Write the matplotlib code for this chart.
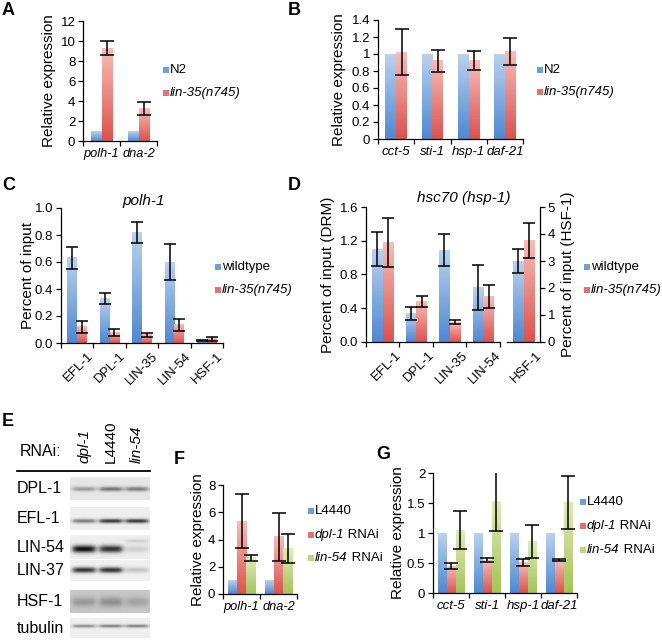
import numpy as np
import matplotlib
matplotlib.use("Agg")
import matplotlib.pyplot as plt
from matplotlib.colors import LinearSegmentedColormap
from matplotlib.patches import Rectangle
from matplotlib.lines import Line2D
from matplotlib.transforms import ScaledTranslation

# ---------------- data ----------------
a_cats = ["polh-1", "dna-2"]
a_n2 = [1.0, 1.0]
a_lin35 = [9.3, 3.3]
a_lin35_err = [0.72, 0.65]

b_cats = ["cct-5", "sti-1", "hsp-1", "daf-21"]
b_n2 = [1.0, 1.0, 1.0, 1.0]
b_lin35 = [1.02, 0.92, 0.92, 1.03]
b_lin35_err = [0.27, 0.13, 0.11, 0.16]

ab_series = ["N2", "lin-35(n745)"]

c_cats = ["EFL-1", "DPL-1", "LIN-35", "LIN-54", "HSF-1"]
c_wt = [0.63, 0.33, 0.82, 0.60, 0.02]
c_wt_err = [0.08, 0.04, 0.078, 0.137, 0.004]
c_lin35 = [0.12, 0.08, 0.06, 0.135, 0.03]
c_lin35_err = [0.045, 0.027, 0.012, 0.043, 0.012]

d_cats = ["EFL-1", "DPL-1", "LIN-35", "LIN-54"]
d_wt = [1.10, 0.34, 1.09, 0.645]
d_wt_err = [0.20, 0.08, 0.19, 0.27]
d_lin35 = [1.18, 0.48, 0.235, 0.54]
d_lin35_err = [0.29, 0.07, 0.025, 0.14]
d_hsf_cats = ["HSF-1"]
d_hsf_wt = [3.0]
d_hsf_wt_err = [0.46]
d_hsf_lin35 = [3.76]
d_hsf_lin35_err = [0.64]

cd_series = ["wildtype", "lin-35(n745)"]

f_cats = ["polh-1", "dna-2"]
f_l4440 = [1.0, 1.0]
f_dpl1 = [5.35, 4.2]
f_dpl1_err = [2.0, 1.75]
f_lin54 = [2.66, 3.37]
f_lin54_err = [0.22, 1.07]

g_cats = ["cct-5", "sti-1", "hsp-1", "daf-21"]
g_l4440 = [1.0, 1.0, 1.0, 1.0]
g_dpl1 = [0.445, 0.55, 0.51, 0.55]
g_dpl1_err = [0.05, 0.04, 0.06, 0.015]
g_lin54 = [1.05, 1.52, 0.86, 1.505]
g_lin54_err = [0.32, 0.49, 0.27, 0.44]

# legend labels: list of (text, italic) segments
fg_series = [[("L4440", False)],
             [("dpl-1", True), (" RNAi", False)],
             [("lin-54", True), (" RNAi", False)]]

# western blot (E)
blot_lanes = ["dpl-1", "L4440", "lin-54"]
blot_lane_italic = [True, False, True]
blot_rows = ["DPL-1", "EFL-1", "LIN-54", "LIN-37", "HSF-1", "tubulin"]
blot_bg = [0.90, 0.93, 0.93, 0.94, 0.78, 0.93]
band_main = [[0.30, 0.45, 0.42],
             [0.45, 0.72, 0.72],
             [0.88, 0.75, 0.12],
             [0.75, 0.75, 0.18],
             [0.18, 0.22, 0.14],
             [0.40, 0.45, 0.45]]
band_upper = [[0.0, 0.0, 0.0],
              [0.0, 0.0, 0.0],
              [0.0, 0.0, 0.12],
              [0.0, 0.0, 0.0],
              [0.0, 0.0, 0.0],
              [0.0, 0.0, 0.0]]

# ---------------- style ----------------
W, H = 662, 642
plt.rcParams["font.family"] = ["Liberation Sans", "DejaVu Sans"]
plt.rcParams["axes.linewidth"] = 0.9
plt.rcParams["xtick.major.width"] = 0.9
plt.rcParams["ytick.major.width"] = 0.9
plt.rcParams["xtick.minor.width"] = 0.9

BLUE = ("#4d89d2", "#b9d1ef", "#6d9fdd")
RED = ("#dd524c", "#f8bcb7", "#e9716b")
GREEN = ("#a3c457", "#dfebb9", "#bad67c")

TICK_FS = 9.5
LEG_FS = 9.5


def cmap_of(c):
    return LinearSegmentedColormap.from_list("g", [c[0], c[1]])


fig = plt.figure(figsize=(W / 100, H / 100), dpi=100)


def fx(x):
    return x / W


def fy(y):
    return 1 - y / H


def axes_px(x0, x1, ytop, ybot):
    return fig.add_axes([fx(x0), fy(ybot), (x1 - x0) / W, (ybot - ytop) / H])


def grad_bars(ax, x, h, width, col):
    bars = ax.bar(x, h, width, color=col[2], linewidth=0, zorder=2)
    cm = cmap_of(col)
    for r in bars:
        x0, w, hh = r.get_x(), r.get_width(), r.get_height()
        ax.imshow(np.linspace(0, 1, 64).reshape(-1, 1), extent=[x0, x0 + w, 0, hh],
                  origin="lower", aspect="auto", cmap=cm, zorder=2.1,
                  interpolation="bilinear")
    return bars


def ebar(ax, x, y, e, cap):
    ax.errorbar(x, y, yerr=e, fmt="none", ecolor="black", elinewidth=1.1,
                capsize=cap, capthick=1.1, zorder=4)


def style_axes(ax, n, ylim, yticks, ylabels, tick_fs=TICK_FS):
    ax.set_xlim(-0.5, n - 0.5)
    ax.set_ylim(*ylim)
    for s in ("top", "right"):
        ax.spines[s].set_visible(False)
    ax.set_yticks(yticks)
    ax.set_yticklabels(ylabels, fontsize=tick_fs)
    ax.tick_params(axis="y", direction="out", length=3.5, pad=2)
    ax.set_xticks(np.arange(n))
    ax.set_xticks(np.arange(-0.5, n, 1.0), minor=True)
    ax.tick_params(axis="x", which="major", length=0, pad=5)
    ax.tick_params(axis="x", which="minor", direction="out", length=3.5)


def seg_text(x, y, segs, fs=LEG_FS):
    r = fig.canvas.get_renderer()
    cx = x
    for txt, it in segs:
        t = fig.text(fx(cx), fy(y), txt, fontsize=fs, style="italic" if it else "normal",
                     ha="left", va="center")
        bb = t.get_window_extent(r)
        cx += bb.width


def legend_px(xsq, xtxt, ys, labels, colors, fs=LEG_FS):
    for y, lab, col in zip(ys, labels, colors):
        fig.patches.append(Rectangle((fx(xsq), fy(y + 3)), 6 / W, 6 / H,
                                     transform=fig.transFigure, facecolor=col[2],
                                     edgecolor="none"))
        if isinstance(lab, str):
            lab = [(lab, lab.startswith("lin"))]
        seg_text(xtxt, y, lab, fs)


def ylabel_px(ax, text, xr, fs=11):
    ax.set_ylabel(text, fontsize=fs)
    bb = ax.get_position()
    yc = (bb.y0 + bb.y1) / 2
    ax.yaxis.set_label_coords(fx(xr), yc, transform=fig.transFigure)


def panel_letter(x, y, s):
    fig.text(fx(x), fy(y), s, fontsize=13, fontweight="bold", ha="left", va="top")


# ---------------- A ----------------
axA = axes_px(83, 157, 21, 141)
xa = np.arange(len(a_cats))
wA = 0.29
grad_bars(axA, xa - wA / 2, a_n2, wA, BLUE)
grad_bars(axA, xa + wA / 2, a_lin35, wA, RED)
ebar(axA, xa + wA / 2, a_lin35, a_lin35_err, 5)
style_axes(axA, 2, (0, 12), np.arange(0, 13, 2), [str(v) for v in range(0, 13, 2)])
axA.set_xticklabels(a_cats, fontsize=9.2, style="italic")
ylabel_px(axA, "Relative expression", 56)
legend_px(163, 170, [70, 93], ab_series, [BLUE, RED])
panel_letter(2, 2, "A")

# ---------------- B ----------------
axB = axes_px(378, 523, 20, 139)
xb = np.arange(len(b_cats))
wB = 0.3
grad_bars(axB, xb - wB / 2, b_n2, wB, BLUE)
grad_bars(axB, xb + wB / 2, b_lin35, wB, RED)
ebar(axB, xb + wB / 2, b_lin35, b_lin35_err, 5)
bt = [0, 0.2, 0.4, 0.6, 0.8, 1.0, 1.2, 1.4]
style_axes(axB, 4, (0, 1.4), bt, ["0", "0.2", "0.4", "0.6", "0.8", "1", "1.2", "1.4"])
axB.set_xticklabels(b_cats, fontsize=TICK_FS, style="italic")
ylabel_px(axB, "Relative expression", 346)
legend_px(537, 544, [70, 92], ab_series, [BLUE, RED])
panel_letter(288, 2, "B")

# ---------------- C ----------------
axC = axes_px(61, 223, 208, 343)
xc = np.arange(len(c_cats))
wC = 0.3
grad_bars(axC, xc - wC / 2, c_wt, wC, BLUE)
grad_bars(axC, xc + wC / 2, c_lin35, wC, RED)
ebar(axC, xc - wC / 2, c_wt, c_wt_err, 4)
ebar(axC, xc + wC / 2, c_lin35, c_lin35_err, 4)
ct = [0, 0.2, 0.4, 0.6, 0.8, 1.0]
style_axes(axC, 5, (0, 1.0), ct, ["%.1f" % v for v in ct])
axC.set_xticklabels(c_cats, fontsize=TICK_FS, rotation=45, ha="right", va="top",
                    rotation_mode="anchor")
for lab in axC.get_xticklabels():
    lab.set_transform(lab.get_transform() + ScaledTranslation(0.1, 0, fig.dpi_scale_trans))
ylabel_px(axC, "Percent of input", 35)
fig.text(fx(144), fy(201), "polh-1", fontsize=11, style="italic", ha="center", va="center")
legend_px(215, 222, [267, 290], cd_series, [BLUE, RED])
panel_letter(2, 177, "C")

# ---------------- D ----------------
axD = axes_px(366, 500, 207, 342)
xd = np.arange(len(d_cats))
wD = 0.32
grad_bars(axD, xd - wD / 2, d_wt, wD, BLUE)
grad_bars(axD, xd + wD / 2, d_lin35, wD, RED)
ebar(axD, xd - wD / 2, d_wt, d_wt_err, 4)
ebar(axD, xd + wD / 2, d_lin35, d_lin35_err, 4)
dt = [0, 0.4, 0.8, 1.2, 1.6]
style_axes(axD, 4, (0, 1.6), dt, ["%.1f" % v for v in dt])
axD.set_xticklabels(d_cats, fontsize=TICK_FS, rotation=45, ha="right", va="top",
                    rotation_mode="anchor")
for lab in axD.get_xticklabels():
    lab.set_transform(lab.get_transform() + ScaledTranslation(0.12, 0, fig.dpi_scale_trans))
ylabel_px(axD, "Percent of input (DRM)", 335)

axD2 = axes_px(507, 540, 207, 342)
xh = np.arange(len(d_hsf_cats))
grad_bars(axD2, xh - wD / 2, d_hsf_wt, wD, BLUE)
grad_bars(axD2, xh + wD / 2, d_hsf_lin35, wD, RED)
ebar(axD2, xh - wD / 2, d_hsf_wt, d_hsf_wt_err, 4)
ebar(axD2, xh + wD / 2, d_hsf_lin35, d_hsf_lin35_err, 4)
axD2.set_xlim(-0.5, 0.5)
axD2.set_ylim(0, 5)
axD2.spines["top"].set_visible(False)
axD2.spines["left"].set_visible(False)
axD2.yaxis.tick_right()
axD2.yaxis.set_label_position("right")
axD2.set_yticks(range(6))
axD2.set_yticklabels([str(v) for v in range(6)], fontsize=TICK_FS)
axD2.tick_params(axis="y", direction="out", length=3.5, pad=2)
axD2.set_xticks(xh)
axD2.tick_params(axis="x", length=0, pad=5)
axD2.set_xticklabels(d_hsf_cats, fontsize=TICK_FS, rotation=45, ha="right", va="top",
                     rotation_mode="anchor")
for lab in axD2.get_xticklabels():
    lab.set_transform(lab.get_transform() + ScaledTranslation(0.12, 0, fig.dpi_scale_trans))
axD2.set_ylabel("Percent of input (HSF-1)", fontsize=11)
bbD = axD2.get_position()
axD2.yaxis.set_label_coords(fx(561), (bbD.y0 + bbD.y1) / 2, transform=fig.transFigure)
fig.text(fx(464), fy(198), "hsc70 (hsp-1)", fontsize=11, style="italic", ha="center",
         va="center")
legend_px(584, 591, [267, 290], cd_series, [BLUE, RED])
panel_letter(288, 177, "D")

# ---------------- E (western blot) ----------------
axE = fig.add_axes([0, 0, fx(180), fy(405)])
axE.set_xlim(0, 180)
axE.set_ylim(642, 405)
axE.axis("off")
panel_letter(2, 413, "E")
axE.text(20, 452, "RNAi:", fontsize=11.5, ha="left", va="center")
axE.add_line(Line2D([17, 150], [471, 471], color="black", lw=1.3))
lane_x = [84, 111, 137]
for lx, name, it in zip(lane_x, blot_lanes, blot_lane_italic):
    axE.text(lx, 463, name, fontsize=11, rotation=90, ha="center", va="bottom",
             style="italic" if it else "normal")
row_box = [(477, 500), (507, 530), (535, 559), (560, 581), (590, 613), (618, 638)]
row_band = [(489, 1.6), (521, 1.5), (549, 2.6), (570, 2.0), (602, 3.5), (626, 1.1)]
bx0, bx1 = 70, 150
xs = np.linspace(bx0, bx1, 320)
for i, name in enumerate(blot_rows):
    top, bot = row_box[i]
    yc, sy = row_band[i]
    axE.text(17, (top + bot) / 2 + 0.5, name, fontsize=11.5, ha="left", va="center")
    ys = np.linspace(top, bot, int((bot - top) * 4))
    img = np.full((len(ys), len(xs)), blot_bg[i])
    for j, lx in enumerate(lane_x):
        px = 1 / (1 + np.exp((np.abs(xs - lx) - 11) / 1.6))
        py = np.exp(-0.5 * ((ys - yc) / sy) ** 2)
        img -= band_main[i][j] * np.outer(py, px)
        if band_upper[i][j] > 0:
            pu = np.exp(-0.5 * ((ys - (yc - 8)) / 1.3) ** 2)
            img -= band_upper[i][j] * np.outer(pu, px)
    axE.imshow(np.clip(img, 0, 1), extent=[bx0, bx1, bot, top], origin="upper",
               cmap="gray", vmin=0, vmax=1, aspect="auto", interpolation="bilinear")
axE.set_xlim(0, 180)
axE.set_ylim(642, 405)

# ---------------- F ----------------
axF = axes_px(223, 297, 485, 594)
xf = np.arange(len(f_cats))
wF = 0.25
grad_bars(axF, xf - wF, f_l4440, wF, BLUE)
grad_bars(axF, xf, f_dpl1, wF, RED)
grad_bars(axF, xf + wF, f_lin54, wF, GREEN)
ebar(axF, xf, f_dpl1, f_dpl1_err, 5)
ebar(axF, xf + wF, f_lin54, f_lin54_err, 5)
style_axes(axF, 2, (0, 8), [0, 2, 4, 6, 8], ["0", "2", "4", "6", "8"])
axF.set_xticklabels(f_cats, fontsize=9.2, style="italic")
ylabel_px(axF, "Relative expression", 205)
legend_px(308, 315, [511, 535, 558], fg_series, [BLUE, RED, GREEN])
panel_letter(174, 451, "F")

# ---------------- G ----------------
axG = axes_px(433, 577, 473, 593)
xg = np.arange(len(g_cats))
wG = 0.25
grad_bars(axG, xg - wG, g_l4440, wG, BLUE)
grad_bars(axG, xg, g_dpl1, wG, RED)
grad_bars(axG, xg + wG, g_lin54, wG, GREEN)
ebar(axG, xg, g_dpl1, g_dpl1_err, 5)
ebar(axG, xg + wG, g_lin54, g_lin54_err, 5)
style_axes(axG, 4, (0, 2), [0, 0.5, 1, 1.5, 2], ["0", "0.5", "1", "1.5", "2"])
axG.set_xticklabels(g_cats, fontsize=TICK_FS, style="italic")
ylabel_px(axG, "Relative expression", 405)
legend_px(580, 587, [502, 526, 550], fg_series, [BLUE, RED, GREEN])
panel_letter(376, 446, "G")

fig.savefig("out.png", dpi=100)
